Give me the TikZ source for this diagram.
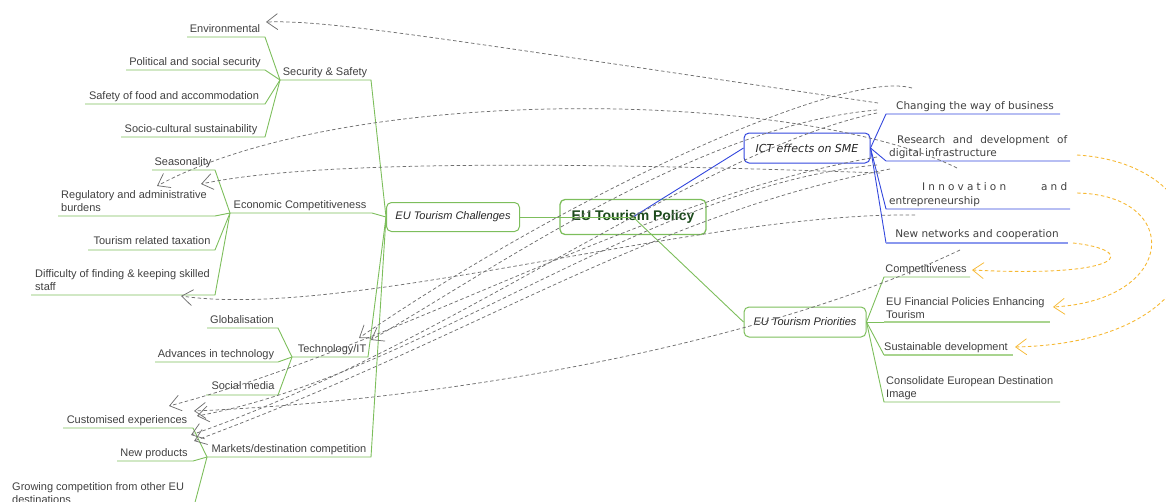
\documentclass[tikz,border=0pt]{standalone}
\usepackage{fontspec}
\setmainfont{Liberation Sans}
\newfontfamily\dvs{DejaVu Sans}[ItalicFont={DejaVu Sans Oblique}]
\usetikzlibrary{arrows.meta}
\definecolor{gr}{HTML}{7DBE5C}
\definecolor{lgr}{HTML}{A9D48F}
\definecolor{bl}{HTML}{3347DD}
\definecolor{lbl}{HTML}{8A98EE}
\definecolor{gy}{HTML}{707070}
\definecolor{txt}{HTML}{404040}
\definecolor{dgreen}{HTML}{1C4A1C}
\definecolor{org}{HTML}{F6B935}
\tikzset{
  leaf/.style={font=\fontsize{11}{13}\selectfont, text=txt, inner sep=0pt},
  ictleaf/.style={font=\dvs\fontsize{10.5}{13.5}\selectfont, text=txt, inner sep=0pt},
  gline/.style={draw=gr, line width=0.9pt},
  glinel/.style={draw=lgr, line width=1.6pt},
  bline/.style={draw=bl, line width=0.9pt},
  blinel/.style={draw=lbl, line width=1.8pt},
  mbox/.style={draw=gr, rounded corners=5pt, line width=1pt, inner sep=0pt},
  bbox/.style={draw=bl, rounded corners=5pt, line width=1pt, inner sep=0pt},
  rel/.style={draw=gy, line width=0.75pt, dash pattern=on 3.5pt off 2.5pt,
    -{Straight Barb[length=11pt,width=16pt,line width=0.75pt]}},
  orel/.style={rel, draw=org, line width=0.9pt}
}
\begin{document}
\begin{tikzpicture}[x=1pt,y=-1pt]
\useasboundingbox (0,0) rectangle (1166,501);

% ---------- central nodes ----------
\node[mbox, minimum width=146pt, minimum height=35pt, line width=1.3pt] (pol) at (633,217)
  {\fontsize{14}{16}\selectfont\bfseries\color{dgreen}EU Tourism Policy};
\node[mbox, minimum width=133pt, minimum height=29pt] (chal) at (453,217)
  {\fontsize{11}{13}\selectfont\itshape\color{black!85}EU Tourism Challenges};
\node[bbox, minimum width=126pt, minimum height=30pt] (ict) at (807,148)
  {\dvs\fontsize{11}{13}\selectfont\itshape\color{black!85}ICT effects on SME};
\node[mbox, minimum width=122pt, minimum height=30pt] (pri) at (805,322)
  {\fontsize{11}{13}\selectfont\itshape\color{black!85}EU Tourism Priorities};

\draw[gline] (chal.east) -- (pol.center);
\draw[bline] (pol.center) -- (ict.west);
\draw[gline] (pol.center) -- (pri.west);

% ---------- Security & Safety ----------
\coordinate (ssJ) at (280,80); \coordinate (ssE) at (371,80);
\node[leaf, anchor=base] (ss) at (325,75) {Security \& Safety};
\draw[gline] (ssJ) -- (ssE) -- (chal.west);
\node[leaf, anchor=base] (env) at (225,32) {Environmental};
\node[leaf, anchor=base] (pol2) at (195,65) {Political and social security};
\node[leaf, anchor=base] (food) at (174,99) {Safety of food and accommodation};
\node[leaf, anchor=base] (soc) at (191,132) {Socio-cultural sustainability};
\coordinate (envL) at (187,37); \coordinate (envR) at (265,37);
\coordinate (polL) at (126,70); \coordinate (polR) at (265,70);
\coordinate (foodL) at (85,104); \coordinate (foodR) at (265,104);
\coordinate (socL) at (121,137); \coordinate (socR) at (265,137);
\draw[gline] (envL) -- (envR) -- (ssJ);
\draw[gline] (polL) -- (polR) -- (ssJ);
\draw[gline] (foodL) -- (foodR) -- (ssJ);
\draw[gline] (socL) -- (socR) -- (ssJ);

% ---------- Economic Competitiveness ----------
\coordinate (ecJ) at (230,213); \coordinate (ecE) at (372,213);
\node[leaf, anchor=base] (ec) at (300,208) {Economic Competitiveness};
\draw[gline] (ecJ) -- (ecE) -- (chal.west);
\node[leaf, anchor=base] (seas) at (183,165) {Seasonality};
\node[leaf, anchor=north west, align=left] (reg) at (61,190) {Regulatory and administrative\\burdens};
\node[leaf, anchor=base] (tax) at (152,244) {Tourism related taxation};
\node[leaf, anchor=north west, align=left] (diff) at (35,269) {Difficulty of finding \& keeping skilled\\staff};
\coordinate (seasL) at (152,170); \coordinate (seasR) at (215,170);
\coordinate (regL) at (58,216); \coordinate (regR) at (215,216);
\coordinate (taxL) at (88,250); \coordinate (taxR) at (215,250);
\coordinate (diffL) at (31,295); \coordinate (diffR) at (215,295);
\draw[gline] (seasL) -- (seasR) -- (ecJ);
\draw[gline] (regL) -- (regR) -- (ecJ);
\draw[gline] (taxL) -- (taxR) -- (ecJ);
\draw[gline] (diffL) -- (diffR) -- (ecJ);

% ---------- Technology/IT ----------
\coordinate (tiJ) at (292,357); \coordinate (tiE) at (368,357);
\node[leaf, anchor=base] (ti) at (332,352) {Technology/IT};
\draw[gline] (tiJ) -- (tiE) -- (chal.west);
\node[leaf, anchor=base] (glob) at (242,323) {Globalisation};
\node[leaf, anchor=base] (adv) at (216,357) {Advances in technology};
\node[leaf, anchor=base] (smed) at (243,389) {Social media};
\coordinate (globL) at (207,328); \coordinate (globR) at (278,328);
\coordinate (advL) at (155,362); \coordinate (advR) at (278,362);
\coordinate (smedL) at (206,395); \coordinate (smedR) at (278,395);
\draw[gline] (globL) -- (globR) -- (tiJ);
\draw[gline] (advL) -- (advR) -- (tiJ);
\draw[gline] (smedL) -- (smedR) -- (tiJ);

% ---------- Markets/destination competition ----------
\coordinate (mkJ) at (207,457); \coordinate (mkE) at (371,457);
\node[leaf, anchor=base] (mk) at (289,452) {Markets/destination competition};
\draw[gline] (mkJ) -- (mkE) -- (chal.west);
\node[leaf, anchor=base] (cust) at (127,423) {Customised experiences};
\node[leaf, anchor=base] (newp) at (154,456) {New products};
\node[leaf, anchor=north west, align=left] (grow) at (12,482) {Growing competition from other EU\\destinations};
\coordinate (custL) at (63,428); \coordinate (custR) at (193,428);
\coordinate (newpL) at (117,461); \coordinate (newpR) at (193,461);
\coordinate (growL) at (8,510); \coordinate (growR) at (193,510);
\draw[gline] (custL) -- (custR) -- (mkJ);
\draw[gline] (newpL) -- (newpR) -- (mkJ);
\draw[gline] (growL) -- (growR) -- (mkJ);

% ---------- ICT effects on SME ----------
\node[ictleaf, anchor=base] (chg) at (975,109) {Changing the way of business};
\node[ictleaf, anchor=north west, align=left] (rnd) at (889,135)
  {\hspace*{8pt}\makebox[170pt][s]{Research and development of}\\digital infrastructure};
\node[ictleaf, anchor=north west, align=left] (inn) at (889,182.5)
  {\hspace*{33pt}\makebox[145pt][s]{\addfontfeature{LetterSpace=30}Innovation and}\\entrepreneurship};
\node[ictleaf, anchor=base] (netw) at (977,237) {New networks and cooperation};
\coordinate (chgL) at (886,114); \coordinate (chgR) at (1060,114);
\coordinate (rndL) at (886,161); \coordinate (rndR) at (1070,161);
\coordinate (innL) at (886,209); \coordinate (innR) at (1070,209);
\coordinate (netwL) at (886,243); \coordinate (netwR) at (1068,243);
\draw[bline] (ict.east) -- (chgL) -- (chgR);
\draw[bline] (ict.east) -- (rndL) -- (rndR);
\draw[bline] (ict.east) -- (innL) -- (innR);
\draw[bline] (ict.east) -- (netwL);
\draw[blinel] (netwL) -- (netwR);

% ---------- EU Tourism Priorities ----------
\node[leaf, anchor=base] (comp) at (926,272) {Competitiveness};
\node[leaf, anchor=north west, align=left] (fin) at (886,297) {EU Financial Policies Enhancing\\Tourism};
\node[leaf, anchor=base] (sust) at (946,350) {Sustainable development};
\node[leaf, anchor=north west, align=left] (cons) at (886,376) {Consolidate European Destination\\Image};
\coordinate (compL) at (884,277); \coordinate (compR) at (970,277);
\coordinate (finL) at (884,322); \coordinate (finR) at (1050,322);
\coordinate (sustL) at (884,355); \coordinate (sustR) at (1013,355);
\coordinate (consL) at (884,402); \coordinate (consR) at (1060,402);
\draw[gline] (pri.east) -- (compL) -- (compR);
\draw[gline] (pri.east) -- (finL); \draw[glinel] (finL) -- (finR);
\draw[gline] (pri.east) -- (sustL); \draw[glinel] (sustL) -- (sustR);
\draw[gline] (pri.east) -- (consL) -- (consR);

% ---------- orange relations ----------
\coordinate (o1s) at (1073,243); \coordinate (o1t) at (972,270);
\coordinate (o2s) at (1077,193); \coordinate (o2t) at (1053,307);
\coordinate (o3s) at (1077,155); \coordinate (o3t) at (1015,347);
\draw[orel] (o1s) .. controls (1138,250) and (1128,278) .. (o1t);
\draw[orel] (o2s) .. controls (1182,195) and (1178,300) .. (o2t);
\draw[orel] (o3s) .. controls (1235,165) and (1240,342) .. (o3t);

% ---------- gray relations ----------
\coordinate (s1) at (878,103);  \coordinate (t1) at (266,22);
\coordinate (s2) at (957,168);  \coordinate (t2) at (157,186);
\coordinate (s3) at (880,173);  \coordinate (t3) at (201,184);
\coordinate (s4) at (915,215);  \coordinate (t4) at (181,296);
\coordinate (s5) at (912,88);   \coordinate (t5) at (359,338);
\coordinate (s6) at (877,110);  \coordinate (t6) at (371,340);
\coordinate (s7) at (877,157);  \coordinate (t7) at (169,406);
\coordinate (s8) at (960,250);  \coordinate (t8) at (194,411);
\coordinate (s9) at (877,165);  \coordinate (t9) at (197,416);
\coordinate (s10) at (877,113); \coordinate (t10) at (191,435);
\coordinate (s11) at (890,169); \coordinate (t11) at (194,441);
\draw[rel] (s1) .. controls (430,37) and (330,20) .. (t1);
\draw[rel] (s2) .. controls (800,90) and (350,82) .. (t2);
\draw[rel] (s3) .. controls (520,160) and (300,163) .. (t3);
\draw[rel] (s4) .. controls (700,212) and (350,320) .. (t4);
\draw[rel] (s5) .. controls (840,68) and (560,200) .. (t5);
\draw[rel] (s6) .. controls (700,125) and (500,265) .. (t6);
\draw[rel] (s7) .. controls (650,195) and (400,345) .. (t7);
\draw[rel] (s8) .. controls (760,345) and (450,400) .. (t8);
\draw[rel] (s9) .. controls (650,185) and (420,375) .. (t9);
\draw[rel] (s10) .. controls (700,150) and (450,345) .. (t10);
\draw[rel] (s11) .. controls (650,215) and (480,335) .. (t11);
\end{tikzpicture}
\end{document}
